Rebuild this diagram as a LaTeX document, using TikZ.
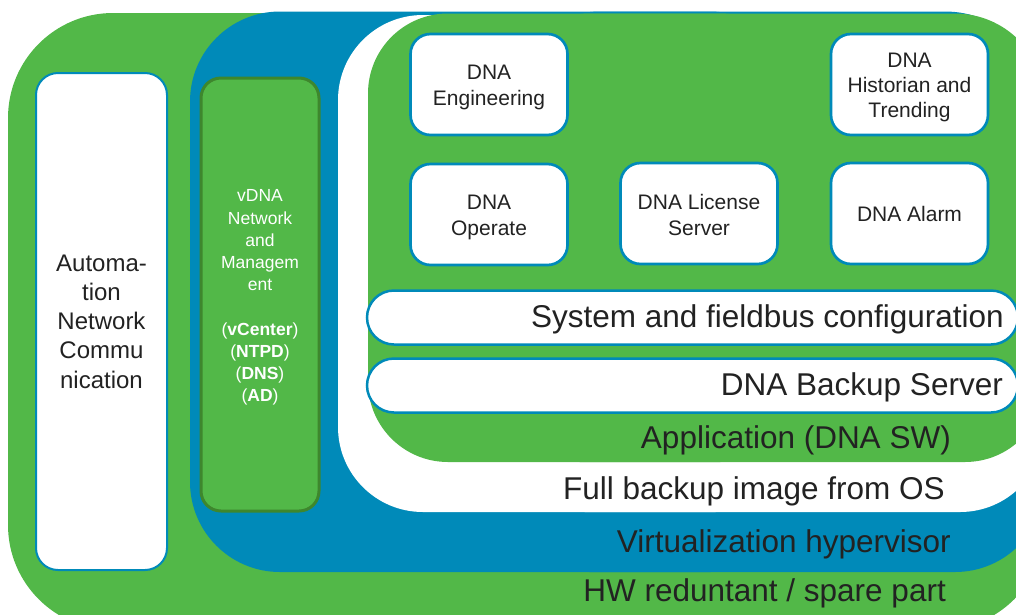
\documentclass[tikz,border=0pt]{standalone}
\usepackage{fontspec}
\setmainfont{Liberation Sans}
\definecolor{lgreen}{RGB}{82,184,72}
\definecolor{lblue}{RGB}{0,138,185}
\definecolor{dgreen}{RGB}{62,135,45}
\definecolor{ink}{RGB}{34,34,34}

% one layer of the stack, built from overlapping rounded rectangles:
% #1 colour, #2 left, #3 top, #4 right, #5 bottom,
% #6 radius on the left, #7 top-right radius, #8 bottom-right radius
\newcommand\slab[8]{%
  \fill[#1, rounded corners=#6] (#2,#3) rectangle (800,#5);
  \fill[#1, rounded corners=#7] (500,#3) rectangle (#4,380);
  \fill[#1, rounded corners=#8] (500,150) rectangle (#4,#5);}

\begin{document}
\begin{tikzpicture}[x=1pt,y=-1pt,
  appbox/.style={draw=lblue, line width=2.7pt, fill=white, rounded corners=20pt,
    minimum width=157pt, minimum height=101pt, inner sep=0pt},
  apptext/.style={align=center, inner sep=0pt, text=ink,
    font=\fontsize{21}{26}\selectfont},
  pill/.style={draw=lblue, line width=2.5pt, fill=white, rounded corners=27pt,
    minimum width=651pt, minimum height=54pt, inner sep=0pt},
  biglabel/.style={text=ink, inner sep=0pt, font=\fontsize{31.5}{36}\selectfont},
  netbox/.style={draw=lblue, line width=2pt, fill=white, rounded corners=22pt,
    minimum width=131pt, minimum height=497pt, align=center, inner sep=0pt,
    text=ink, font=\fontsize{24}{29.3}\selectfont},
  vbox/.style={draw=dgreen, line width=3pt, fill=lgreen, rounded corners=20pt,
    minimum width=118pt, minimum height=433pt, inner sep=0pt},
  vtext/.style={align=center, inner sep=0pt, text=white,
    font=\fontsize{17.5}{22.2}\selectfont}
]
\path[use as bounding box] (0,0) rectangle (1016,614);

\begin{scope}
  \clip (0,0) rectangle (1016,614);
  % nested layers: hardware, hypervisor, OS image, application
  \fill[lgreen, rounded corners=105pt] (8,13) rectangle (1045,630);
  \slab{lblue}{190}{11.5}{1045}{572}{90pt}{100pt}{90pt}
  \slab{white}{338}{15}{1045}{512}{85pt}{100pt}{85pt}
  \slab{lgreen}{368}{13.5}{1045}{462}{80pt}{90pt}{80pt}

  % wide bars of the application layer
  \node[pill] (sys) at (692.5,317.5) {};
  \node[pill] (bak) at (692.5,385.5) {};
\end{scope}

\node[biglabel, anchor=base east] (systxt) at (1004,327) {System and fieldbus configuration};
\node[biglabel, anchor=base east] (baktxt) at (1003,395) {DNA Backup Server};

% layer captions
\node[biglabel, anchor=base east] (app) at (951,448) {Application (DNA SW)};
\node[biglabel, anchor=base east] (os)  at (945,499) {Full backup image from OS};
\node[biglabel, anchor=base east] (hyp) at (951,552) {Virtualization hypervisor};
\node[biglabel, anchor=base east] (hw)  at (946,601) {HW reduntant / spare part};

% application modules
\node[appbox] (eng)  at (489,84.5)    {};
\node[appbox] (hist) at (909.5,84.5)  {};
\node[appbox] (oper) at (489,214.5)   {};
\node[appbox] (lic)  at (699,213.5)   {};
\node[appbox] (alm)  at (909.5,213.5) {};
\node[apptext, yshift=-2.5pt] (engt)  at (eng.center)  {DNA\\Engineering};
\node[apptext, yshift=-3pt, font=\fontsize{21}{25}\selectfont] (histt) at (hist.center)
  {DNA\\Historian and\\Trending};
\node[apptext, yshift=-2.5pt] (opert) at (oper.center) {DNA\\Operate};
\node[apptext, yshift=-1pt]   (lict)  at (lic.center)  {DNA License\\Server};
\node[apptext]                (almt)  at (alm.center)  {DNA Alarm};

% side columns
\node[netbox] (net) at (101.5,321.5) {Automa-\\tion\\Network\\Commu\\nication};
\node[vbox] (vdna) at (260,294.5) {};
\node[vtext, yshift=-3pt] (vdnat) at (vdna.center)
  {vDNA\\Network\\and\\Managem\\ent\\[22.2pt]
   (\textbf{vCenter})\\(\textbf{NTPD})\\(\textbf{DNS})\\(\textbf{AD})};
\end{tikzpicture}
\end{document}
